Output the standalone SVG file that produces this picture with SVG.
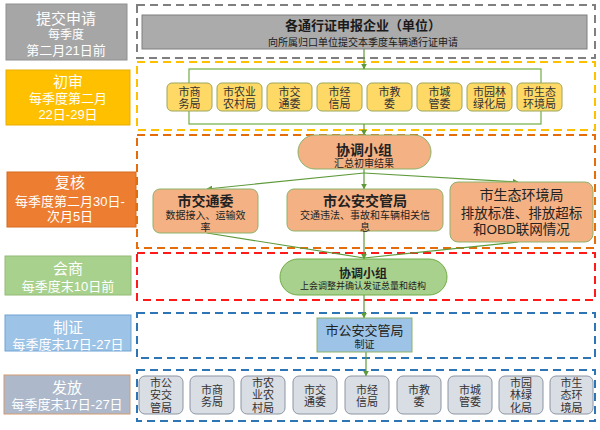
<svg xmlns="http://www.w3.org/2000/svg" width="600" height="430" viewBox="0 0 600 430">
<defs>
<marker id="arr" viewBox="0 0 10 10" refX="9" refY="5" markerWidth="6" markerHeight="6" orient="auto" markerUnits="userSpaceOnUse">
<path d="M0,0 L10,5 L0,10 z" fill="#5E9A3A"/>
</marker>
<style>
text{font-family:"Liberation Sans","Noto Sans CJK SC",sans-serif;text-anchor:middle}
.lbl{fill:#fff;font-size:13px}
.big{font-size:15px}
.dash{fill:none;stroke-width:2;stroke-dasharray:8 5}
.yn{fill:#FFD966;stroke:#9AA65A;stroke-width:1}
.yt{fill:#333;font-size:11px}
.on{fill:#F4B183;stroke:#8DB26A;stroke-width:1}
.ot{fill:#222;font-size:10px}
.ob{font-weight:bold;font-size:14px}
.gn{fill:#D9DDE4;stroke:#8C96A3;stroke-width:1}
.gt{fill:#333;font-size:11px}
.con{stroke:#5E9A3A;stroke-width:1.2;fill:none}
</style>
</defs>

<!-- stage labels -->
<g id="stage-submit">
<rect x="6" y="4" width="121" height="56" fill="#A6A6A6" stroke="#909090"/>
<text class="lbl"><tspan class="big" x="66" y="24">提交申请</tspan><tspan x="66" y="38.5" style="font-size:12px">每季度</tspan><tspan x="66" y="55">第二月21日前</tspan></text>
</g>
<g id="stage-first">
<rect x="6" y="70" width="124" height="55" fill="#FFC000" stroke="#E8AE00"/>
<text class="lbl"><tspan class="big" x="68" y="87">初审</tspan><tspan x="68" y="103">每季度第二月</tspan><tspan x="68" y="119">22日-29日</tspan></text>
</g>
<g id="stage-review">
<rect x="7" y="172" width="129" height="55" fill="#ED7D31" stroke="#D66A20"/>
<text class="lbl"><tspan class="big" x="70" y="188">复核</tspan><tspan x="70" y="206">每季度第二月30日-</tspan><tspan x="70" y="221">次月5日</tspan></text>
</g>
<g id="stage-consult">
<rect x="5" y="256" width="126" height="39" fill="#A9D18E" stroke="#93BB78"/>
<text class="lbl"><tspan class="big" x="68" y="274">会商</tspan><tspan x="68" y="291">每季度末10日前</tspan></text>
</g>
<g id="stage-issue-cert">
<rect x="5" y="315" width="126" height="36" fill="#9DC3E6" stroke="#6FA3D3"/>
<text class="lbl"><tspan class="big" x="68" y="333">制证</tspan><tspan x="68" y="349">每季度末17日-27日</tspan></text>
</g>
<g id="stage-distribute">
<rect x="4" y="375" width="126" height="39" fill="#ADB9CA" stroke="#D39A70"/>
<text class="lbl"><tspan class="big" x="67" y="392.5">发放</tspan><tspan x="67" y="408.5">每季度末17日-27日</tspan></text>
</g>

<!-- dashed stage frames -->
<g id="frames">
<rect class="dash" x="137" y="5" width="458" height="53" stroke="#7F7F7F"/>
<rect class="dash" x="137" y="62" width="458" height="68" stroke="#FFC000"/>
<rect class="dash" x="137" y="135" width="458" height="113" stroke="#E46C0A"/>
<rect class="dash" x="137" y="253" width="458" height="47" stroke="#FF1A1A"/>
<rect class="dash" x="137" y="313" width="458" height="45" stroke="#2E75B6"/>
<rect class="dash" x="137" y="370" width="458" height="51" stroke="#2E75B6"/>
</g>

<!-- connectors -->
<g id="connectors">
<rect x="189" y="69" width="352" height="55" fill="none" stroke="#70AD47" stroke-width="1.2"/>
<line class="con" x1="364" y1="49" x2="364" y2="69" marker-end="url(#arr)"/>
<line class="con" x1="364" y1="124" x2="364" y2="135" marker-end="url(#arr)"/>
<line class="con" x1="364" y1="169" x2="364" y2="189" marker-end="url(#arr)"/>
<line class="con" x1="364" y1="173" x2="207" y2="189" marker-end="url(#arr)"/>
<line class="con" x1="364" y1="173" x2="518" y2="182" marker-end="url(#arr)"/>
<line class="con" x1="207" y1="233" x2="364" y2="258"/>
<line class="con" x1="518" y1="242" x2="364" y2="258"/>
<line class="con" x1="364" y1="231" x2="364" y2="259" marker-end="url(#arr)"/>
<line class="con" x1="364" y1="295" x2="364" y2="318" marker-end="url(#arr)"/>
<line class="con" x1="366" y1="352" x2="366" y2="376" marker-end="url(#arr)"/>
</g>

<!-- submit node -->
<g id="enterprise">
<rect x="142" y="15" width="445" height="34" fill="#ABABAB" stroke="#7F7F7F"/>
<text style="fill:#1a1a1a"><tspan x="363" y="30" style="font-size:13px;font-weight:bold">各通行证申报企业（单位）</tspan><tspan x="363" y="46" style="font-size:10px">向所属归口单位提交本季度车辆通行证申请</tspan></text>
</g>

<!-- first review nodes -->
<g id="y-shangwu"><rect class="yn" x="167" y="83" width="45" height="28" rx="5"/><text class="yt"><tspan x="189.5" y="95.5">市商</tspan><tspan x="189.5" y="108">务局</tspan></text></g>
<g id="y-nongye"><rect class="yn" x="217" y="83" width="45" height="28" rx="5"/><text class="yt"><tspan x="239.5" y="95.5">市农业</tspan><tspan x="239.5" y="108">农村局</tspan></text></g>
<g id="y-jiaotong"><rect class="yn" x="267" y="83" width="45" height="28" rx="5"/><text class="yt"><tspan x="289.5" y="95.5">市交</tspan><tspan x="289.5" y="108">通委</tspan></text></g>
<g id="y-jingxin"><rect class="yn" x="317" y="83" width="45" height="28" rx="5"/><text class="yt"><tspan x="339.5" y="95.5">市经</tspan><tspan x="339.5" y="108">信局</tspan></text></g>
<g id="y-jiaowei"><rect class="yn" x="367" y="83" width="45" height="28" rx="5"/><text class="yt"><tspan x="389.5" y="95.5">市教</tspan><tspan x="389.5" y="108">委</tspan></text></g>
<g id="y-chengguan"><rect class="yn" x="417" y="83" width="45" height="28" rx="5"/><text class="yt"><tspan x="439.5" y="95.5">市城</tspan><tspan x="439.5" y="108">管委</tspan></text></g>
<g id="y-yuanlin"><rect class="yn" x="467" y="83" width="45" height="28" rx="5"/><text class="yt"><tspan x="489.5" y="95.5">市园林</tspan><tspan x="489.5" y="108">绿化局</tspan></text></g>
<g id="y-shengtai"><rect class="yn" x="517" y="83" width="45" height="28" rx="5"/><text class="yt"><tspan x="539.5" y="95.5">市生态</tspan><tspan x="539.5" y="108">环境局</tspan></text></g>

<!-- review stage -->
<g id="coord-1">
<rect x="298" y="135" width="133" height="34" rx="17" fill="#F4B183" stroke="#8DB26A"/>
<text class="ot"><tspan class="ob" x="364" y="154.5">协调小组</tspan><tspan x="364" y="167">汇总初审结果</tspan></text>
</g>
<g id="r-jiaotong">
<rect class="on" x="153" y="189" width="105" height="44" rx="7"/>
<text class="ot"><tspan class="ob" x="205.5" y="206">市交通委</tspan><tspan x="205.5" y="219">数据接入、运输效</tspan><tspan x="205.5" y="230.5">率</tspan></text>
</g>
<g id="r-gongan">
<rect class="on" x="287" y="189" width="156" height="42" rx="7"/>
<text class="ot"><tspan class="ob" x="365" y="206">市公安交管局</tspan><tspan x="365" y="219">交通违法、事故和车辆相关信</tspan><tspan x="365" y="230.5">息</tspan></text>
</g>
<g id="r-shengtai">
<rect class="on" x="450" y="182" width="143" height="60" rx="8"/>
<text style="fill:#222;font-size:13.5px"><tspan x="521.5" y="200" style="font-size:14px">市生态环境局</tspan><tspan x="521.5" y="218">排放标准、排放超标</tspan><tspan x="521.5" y="234">和OBD联网情况</tspan></text>
</g>

<!-- consult -->
<g id="coord-2">
<rect x="280" y="259" width="167" height="36" rx="18" fill="#A9D18E" stroke="#70AD47"/>
<text style="fill:#222;font-size:9px"><tspan x="363" y="278" style="font-size:12px;font-weight:bold">协调小组</tspan><tspan x="363" y="289">上会调整并确认发证总量和结构</tspan></text>
</g>

<!-- certificate -->
<g id="cert">
<rect x="317" y="318" width="95" height="34" fill="#9DC3E6" stroke="#8DB26A"/>
<text style="fill:#222;font-size:10px"><tspan x="364.5" y="335" style="font-size:13px">市公安交管局</tspan><tspan x="364.5" y="348">制证</tspan></text>
</g>

<!-- distribute nodes -->
<g id="d-gongan"><rect class="gn" x="139" y="376" width="44" height="38" rx="6"/><text class="gt"><tspan x="161" y="386.5">市公</tspan><tspan x="161" y="399">安交</tspan><tspan x="161" y="411.5">管局</tspan></text></g>
<g id="d-shangwu"><rect class="gn" x="190" y="376" width="44" height="38" rx="6"/><text class="gt"><tspan x="212" y="393.5">市商</tspan><tspan x="212" y="406">务局</tspan></text></g>
<g id="d-nongye"><rect class="gn" x="241" y="376" width="44" height="38" rx="6"/><text class="gt"><tspan x="263" y="386.5">市农</tspan><tspan x="263" y="399">业农</tspan><tspan x="263" y="411.5">村局</tspan></text></g>
<g id="d-jiaotong"><rect class="gn" x="293" y="376" width="44" height="38" rx="6"/><text class="gt"><tspan x="315" y="393.5">市交</tspan><tspan x="315" y="406">通委</tspan></text></g>
<g id="d-jingxin"><rect class="gn" x="345" y="376" width="44" height="38" rx="6"/><text class="gt"><tspan x="367" y="393.5">市经</tspan><tspan x="367" y="406">信局</tspan></text></g>
<g id="d-jiaowei"><rect class="gn" x="397" y="376" width="44" height="38" rx="6"/><text class="gt"><tspan x="419" y="393.5">市教</tspan><tspan x="419" y="406">委</tspan></text></g>
<g id="d-chengguan"><rect class="gn" x="448" y="376" width="44" height="38" rx="6"/><text class="gt"><tspan x="470" y="393.5">市城</tspan><tspan x="470" y="406">管委</tspan></text></g>
<g id="d-yuanlin"><rect class="gn" x="499" y="376" width="44" height="38" rx="6"/><text class="gt"><tspan x="521" y="386.5">市园</tspan><tspan x="521" y="399">林绿</tspan><tspan x="521" y="411.5">化局</tspan></text></g>
<g id="d-shengtai"><rect class="gn" x="550" y="376" width="43" height="38" rx="6"/><text class="gt"><tspan x="571.5" y="386.5">市生</tspan><tspan x="571.5" y="399">态环</tspan><tspan x="571.5" y="411.5">境局</tspan></text></g>
</svg>
